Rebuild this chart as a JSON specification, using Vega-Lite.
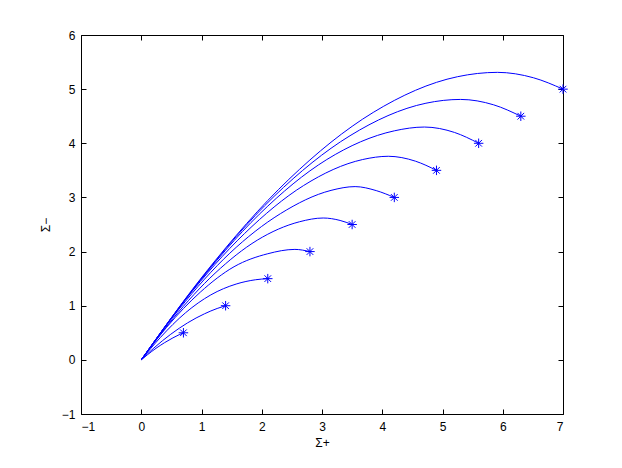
{
  "$schema": "https://vega.github.io/schema/vega-lite/v6.json",
  "autosize": "none",
  "width": 482,
  "height": 379,
  "padding": {"left": 81, "top": 35, "right": 59, "bottom": 54},
  "background": "white",
  "config": {
    "view": {"stroke": null},
    "font": "Liberation Sans",
    "axis": {
      "grid": false,
      "domainColor": "#000000",
      "domainWidth": 1,
      "tickColor": "#000000",
      "tickSize": -5,
      "labelFont": "Liberation Sans",
      "labelFontSize": 12,
      "labelColor": "#000000",
      "titleFont": "Liberation Sans",
      "titleFontSize": 12,
      "titleFontWeight": "normal",
      "titleColor": "#000000"
    }
  },
  "datasets": {
    "curves": [
      {"k": 1, "x": 0, "y": 0}, {"k": 1, "x": 0.105, "y": 0.096}, {"k": 1, "x": 0.245, "y": 0.213}, {"k": 1, "x": 0.385, "y": 0.316}, {"k": 1, "x": 0.525, "y": 0.406}, {"k": 1, "x": 0.63, "y": 0.465}, {"k": 1, "x": 0.7, "y": 0.5},
      {"k": 2, "x": 0, "y": 0}, {"k": 2, "x": 0.21, "y": 0.219}, {"k": 2, "x": 0.49, "y": 0.473}, {"k": 2, "x": 0.77, "y": 0.684}, {"k": 2, "x": 1.05, "y": 0.851}, {"k": 2, "x": 1.26, "y": 0.949}, {"k": 2, "x": 1.4, "y": 1.0},
      {"k": 3, "x": 0, "y": 0}, {"k": 3, "x": 0.315, "y": 0.41}, {"k": 3, "x": 0.735, "y": 0.87}, {"k": 3, "x": 1.155, "y": 1.2}, {"k": 3, "x": 1.575, "y": 1.4}, {"k": 3, "x": 1.9, "y": 1.48}, {"k": 3, "x": 2.1, "y": 1.5},
      {"k": 4, "x": 0, "y": 0}, {"k": 4, "x": 0.42, "y": 0.6}, {"k": 4, "x": 0.98, "y": 1.25}, {"k": 4, "x": 1.54, "y": 1.72}, {"k": 4, "x": 2.1, "y": 1.96}, {"k": 4, "x": 2.55, "y": 2.04}, {"k": 4, "x": 2.8, "y": 2.0},
      {"k": 5, "x": 0, "y": 0}, {"k": 5, "x": 0.525, "y": 0.76}, {"k": 5, "x": 1.225, "y": 1.6}, {"k": 5, "x": 1.925, "y": 2.21}, {"k": 5, "x": 2.625, "y": 2.55}, {"k": 5, "x": 3.02, "y": 2.62}, {"k": 5, "x": 3.3, "y": 2.575}, {"k": 5, "x": 3.5, "y": 2.5},
      {"k": 6, "x": 0, "y": 0}, {"k": 6, "x": 0.63, "y": 0.94}, {"k": 6, "x": 1.47, "y": 1.97}, {"k": 6, "x": 2.31, "y": 2.7}, {"k": 6, "x": 3.15, "y": 3.13}, {"k": 6, "x": 3.55, "y": 3.2}, {"k": 6, "x": 3.9, "y": 3.126}, {"k": 6, "x": 4.2, "y": 3.0},
      {"k": 7, "x": 0, "y": 0}, {"k": 7, "x": 0.735, "y": 1.112}, {"k": 7, "x": 1.715, "y": 2.334}, {"k": 7, "x": 2.695, "y": 3.22}, {"k": 7, "x": 3.675, "y": 3.7}, {"k": 7, "x": 4.1, "y": 3.76}, {"k": 7, "x": 4.55, "y": 3.67}, {"k": 7, "x": 4.9, "y": 3.5},
      {"k": 8, "x": 0, "y": 0}, {"k": 8, "x": 0.84, "y": 1.27}, {"k": 8, "x": 1.96, "y": 2.69}, {"k": 8, "x": 3.08, "y": 3.7}, {"k": 8, "x": 4.2, "y": 4.23}, {"k": 8, "x": 4.7, "y": 4.3}, {"k": 8, "x": 5.2, "y": 4.2}, {"k": 8, "x": 5.6, "y": 4.0},
      {"k": 9, "x": 0, "y": 0}, {"k": 9, "x": 0.945, "y": 1.429}, {"k": 9, "x": 2.205, "y": 3.02}, {"k": 9, "x": 3.465, "y": 4.14}, {"k": 9, "x": 4.725, "y": 4.74}, {"k": 9, "x": 5.3, "y": 4.81}, {"k": 9, "x": 5.85, "y": 4.71}, {"k": 9, "x": 6.3, "y": 4.5},
      {"k": 10, "x": 0, "y": 0}, {"k": 10, "x": 1.05, "y": 1.588}, {"k": 10, "x": 2.45, "y": 3.334}, {"k": 10, "x": 3.85, "y": 4.57}, {"k": 10, "x": 5.25, "y": 5.23}, {"k": 10, "x": 5.91, "y": 5.31}, {"k": 10, "x": 6.51, "y": 5.21}, {"k": 10, "x": 7.0, "y": 5.0}
    ],
    "stars": [
      {"x": 0.7, "y": 0.5}, {"x": 1.4, "y": 1.0}, {"x": 2.1, "y": 1.5}, {"x": 2.8, "y": 2.0}, {"x": 3.5, "y": 2.5},
      {"x": 4.2, "y": 3.0}, {"x": 4.9, "y": 3.5}, {"x": 5.6, "y": 4.0}, {"x": 6.3, "y": 4.5}, {"x": 7.0, "y": 5.0}
    ]
  },
  "layer": [
    {
      "data": {"name": "curves"},
      "mark": {"type": "line", "interpolate": "monotone", "color": "#0000ff", "strokeWidth": 1, "clip": true},
      "encoding": {
        "x": {"field": "x", "type": "quantitative",
              "scale": {"domain": [-1, 7], "nice": false, "zero": false},
              "axis": {"orient": "bottom", "values": [-1, 0, 1, 2, 3, 4, 5, 6, 7], "title": "Σ+", "labelPadding": 12, "titlePadding": 5, "format": "d"}},
        "y": {"field": "y", "type": "quantitative",
              "scale": {"domain": [-1, 6], "nice": false, "zero": false},
              "axis": {"orient": "left", "values": [-1, 0, 1, 2, 3, 4, 5, 6], "title": "Σ−", "labelPadding": 11, "titlePadding": 9, "format": "d"}},
        "detail": {"field": "k", "type": "nominal"}
      }
    },
    {
      "data": {"name": "stars"},
      "mark": {"type": "point", "shape": "M0,-1L0,1M-1,0L1,0M-0.7,-0.7L0.7,0.7M-0.7,0.7L0.7,-0.7", "filled": false, "color": "#0000ff", "strokeWidth": 1, "size": 90, "opacity": 1},
      "encoding": {
        "x": {"field": "x", "type": "quantitative",
              "scale": {"domain": [-1, 7], "nice": false, "zero": false},
              "axis": {"orient": "top", "values": [-1, 0, 1, 2, 3, 4, 5, 6, 7], "labels": false, "title": null}},
        "y": {"field": "y", "type": "quantitative",
              "scale": {"domain": [-1, 6], "nice": false, "zero": false},
              "axis": {"orient": "right", "values": [-1, 0, 1, 2, 3, 4, 5, 6], "labels": false, "title": null}}
      }
    }
  ],
  "resolve": {"axis": {"x": "independent", "y": "independent"}}
}
